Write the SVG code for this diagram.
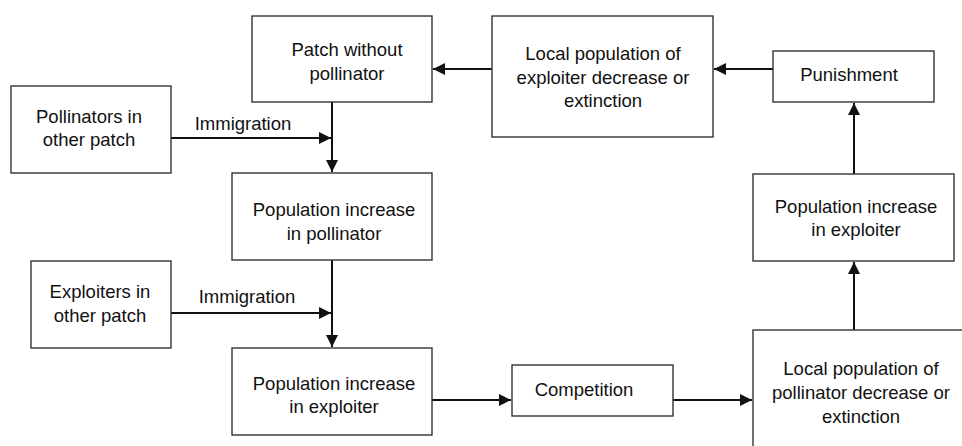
<svg xmlns="http://www.w3.org/2000/svg" width="962" height="446" viewBox="0 0 962 446">
<defs>
<style>
.box{fill:#fff;stroke:#333;stroke-width:1.4}
.t{font-family:"Liberation Sans",Arial,sans-serif;font-size:18.5px;fill:#111;text-anchor:middle}
.c{stroke:#111;stroke-width:2;fill:none}
</style>
<marker id="ah" viewBox="0 0 10 10" refX="10" refY="5" markerWidth="6" markerHeight="6" orient="auto">
<path d="M0,0 L10,5 L0,10 Z" fill="#111"/>
</marker>
</defs>
<rect width="962" height="446" fill="#fff"/>
<g id="connectors">
<line class="c" x1="332" y1="102" x2="332" y2="172" marker-end="url(#ah)"/>
<line class="c" x1="171" y1="138" x2="331" y2="138" marker-end="url(#ah)"/>
<line class="c" x1="332" y1="260" x2="332" y2="347" marker-end="url(#ah)"/>
<line class="c" x1="171" y1="313" x2="331" y2="313" marker-end="url(#ah)"/>
<line class="c" x1="432" y1="400" x2="511" y2="400" marker-end="url(#ah)"/>
<line class="c" x1="673" y1="400" x2="752" y2="400" marker-end="url(#ah)"/>
<line class="c" x1="854" y1="330" x2="854" y2="262" marker-end="url(#ah)"/>
<line class="c" x1="854" y1="174" x2="854" y2="103" marker-end="url(#ah)"/>
<line class="c" x1="773" y1="69" x2="714" y2="69" marker-end="url(#ah)"/>
<line class="c" x1="492" y1="69" x2="433" y2="69" marker-end="url(#ah)"/>
</g>
<g id="patch-without-pollinator">
<rect class="box" x="252" y="16" width="180" height="86"/>
<text class="t" x="347" y="56">Patch without</text>
<text class="t" x="347" y="80">pollinator</text>
</g>
<g id="pollinators-other-patch">
<rect class="box" x="11" y="86" width="160" height="87"/>
<text class="t" x="89" y="123">Pollinators in</text>
<text class="t" x="89" y="146">other patch</text>
</g>
<g id="label-immigration-1">
<text class="t" x="243" y="130">Immigration</text>
</g>
<g id="pop-increase-pollinator">
<rect class="box" x="232" y="173" width="200" height="87"/>
<text class="t" x="334" y="216">Population increase</text>
<text class="t" x="334" y="240">in pollinator</text>
</g>
<g id="exploiters-other-patch">
<rect class="box" x="31" y="261" width="140" height="87"/>
<text class="t" x="100" y="298">Exploiters in</text>
<text class="t" x="100" y="322">other patch</text>
</g>
<g id="label-immigration-2">
<text class="t" x="247" y="303">Immigration</text>
</g>
<g id="pop-increase-exploiter-left">
<rect class="box" x="232" y="348" width="200" height="87"/>
<text class="t" x="334" y="390">Population increase</text>
<text class="t" x="334" y="413">in exploiter</text>
</g>
<g id="competition">
<rect class="box" x="512" y="365" width="161" height="51"/>
<text class="t" x="584" y="396">Competition</text>
</g>
<g id="local-pollinator-decrease">
<rect class="box" x="753" y="330" width="220" height="120"/>
<text class="t" x="861" y="375">Local population of</text>
<text class="t" x="861" y="399">pollinator decrease or</text>
<text class="t" x="861" y="423">extinction</text>
</g>
<g id="pop-increase-exploiter-right">
<rect class="box" x="753" y="174" width="201" height="87"/>
<text class="t" x="856" y="213">Population increase</text>
<text class="t" x="856" y="236">in exploiter</text>
</g>
<g id="punishment">
<rect class="box" x="773" y="51" width="161" height="51"/>
<text class="t" x="849" y="81">Punishment</text>
</g>
<g id="local-exploiter-decrease">
<rect class="box" x="492" y="16" width="221" height="121"/>
<text class="t" x="603" y="60">Local population of</text>
<text class="t" x="603" y="84">exploiter decrease or</text>
<text class="t" x="603" y="107">extinction</text>
</g>
</svg>
